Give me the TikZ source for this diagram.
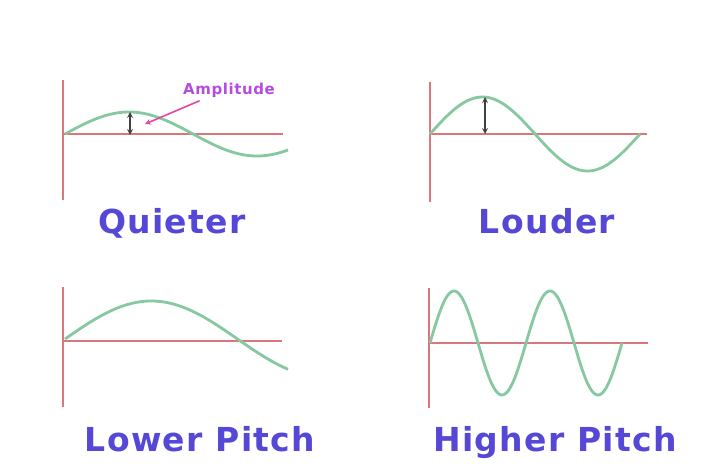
\documentclass[tikz,border=0pt]{standalone}
\usepackage{fontspec}
\setmainfont{DejaVu Sans}
\newfontfamily\capfont[LetterSpace=4]{DejaVu Sans Bold}
\usepackage{xcolor}
\usetikzlibrary{arrows,positioning}
\definecolor{axisred}{HTML}{D9787C}
\definecolor{wavegreen}{HTML}{86C9A0}
\definecolor{capblue}{HTML}{5548D6}
\definecolor{amppurple}{HTML}{B44CE0}
\definecolor{amppink}{HTML}{E2489E}

\begin{document}
\begin{tikzpicture}[
  x=1pt, y=-1pt,
  axis/.style={draw=axisred, line width=2.6pt},
  wave/.style={draw=wavegreen, line width=2.8pt, smooth, samples=150},
  caption/.style={font=\capfont\fontsize{33}{36}\selectfont, text=capblue, text height=24pt, text depth=7pt},
  ampmark/.style={<->, >=stealth, draw=gray!50!black, line width=1.6pt},
  arrow/.style={->, >=stealth, draw=amppink, line width=1.6pt}
]
\useasboundingbox[fill=white] (0,0) rectangle (728,476);
% quieter
\draw[axis] (63,80) -- (63,200);
\draw[axis] (63,134) -- (283,134);
\draw[wave] plot[domain=65:288] (\x, {134-22*sin((\x-65)*1.40625)});
\draw[ampmark] (130,112) -- (130,135);
\node[font=\capfont\fontsize{15}{17}\selectfont, text=amppurple] (amp) at (229,90) {Amplitude};
\coordinate (amptip) at (145,124);
\draw[arrow] ([xshift=20pt]amp.south west) -- (amptip);
\node[caption] (quiet) at (172,225) {Quieter};
% louder
\draw[axis] (430,82) -- (430,202);
\draw[axis] (430,134) -- (647,134);
\draw[wave] plot[domain=430:640] (\x, {134-37*sin((\x-430)*1.7142857)});
\draw[ampmark] (485,97) -- (485,134);
\node[caption] (loud) at (547,225) {Louder};
% lower pitch
\draw[axis] (63,287) -- (63,407);
\draw[axis] (63,341) -- (282,341);
\draw[wave] plot[domain=65:288] (\x, {339-38*sin((\x-65)*1.0434783)});
\node[caption] (low) at (200,443) {Lower Pitch};
% higher pitch
\draw[axis] (429,288) -- (429,408);
\draw[axis] (429,343) -- (648,343);
\draw[wave] plot[domain=430:622] (\x, {343-52*sin((\x-430)*3.75)});
\node[caption] (high) at (555,443) {Higher Pitch};
\end{tikzpicture}
\end{document}
